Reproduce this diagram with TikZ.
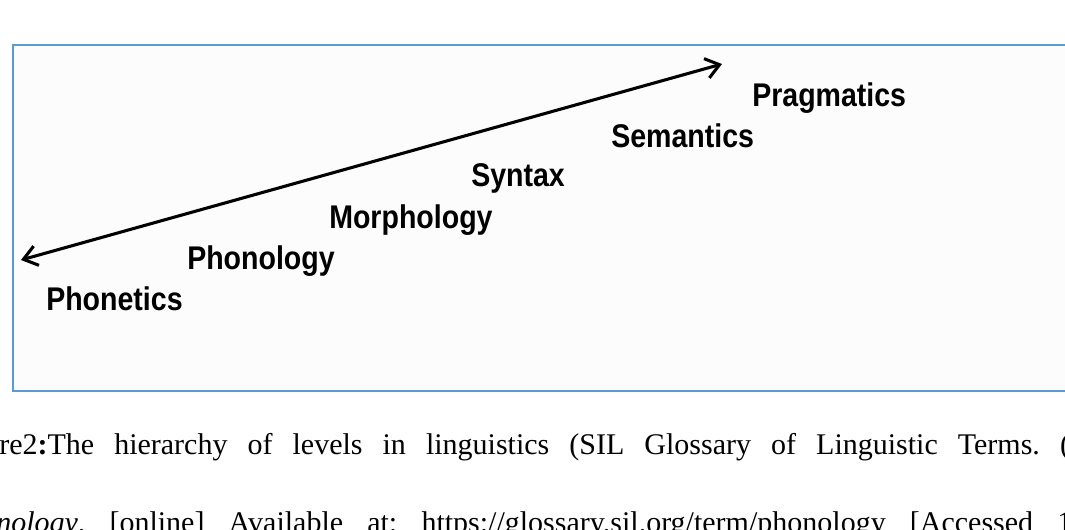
\documentclass[tikz,border=0pt]{standalone}
\usepackage{fontspec}
\setmainfont{Liberation Serif}
\newfontfamily\lblfont{Liberation Sans}[FakeStretch=0.87]
\usetikzlibrary{arrows.meta}
\definecolor{boxblue}{RGB}{91,155,213}
\frenchspacing
\begin{document}
\begin{tikzpicture}[x=0.75pt,y=-0.75pt,
  level/.style={anchor=base west,inner sep=0pt,font=\lblfont\bfseries\fontsize{24.6}{28}\selectfont},
  captext/.style={anchor=base west,inner sep=0pt,font=\fontsize{22.5}{27}\selectfont},
  axis/.style={line width=2.3pt,{Straight Barb[length=10pt,width=15pt,line width=2.3pt]}-{Straight Barb[length=10pt,width=15pt,line width=2.3pt]}}]
\useasboundingbox (0,0) rectangle (1065,529);
\clip (0,0) rectangle (1065,529);
\fill[white] (0,0) rectangle (1065,529);
\draw[boxblue,line width=1.6pt,fill=black!1] (13,45) rectangle (1090,391);
\coordinate (lo) at (21,260);
\coordinate (hi) at (722,64);
\draw[axis] (lo) -- (hi);
\node[level] (phonetics) at (46,310) {Phonetics};
\node[level] (phonology) at (187,269) {Phonology};
\node[level] (morphology) at (329,228) {Morphology};
\node[level] (syntax) at (471,186) {Syntax};
\node[level] (semantics) at (611,147) {Semantics};
\node[level] (pragmatics) at (752,106) {Pragmatics};
\node[captext] (cap1) at (-1,454) {\makebox[803pt][s]{re2\textbf{:}The hierarchy of levels in linguistics (SIL Glossary of Linguistic Terms. (}};
\node[captext] (cap2) at (-4,532) {\makebox[807pt][s]{\textit{nology}. [online] Available at: https://glossary.sil.org/term/phonology [Accessed 1}};
\end{tikzpicture}
\end{document}
